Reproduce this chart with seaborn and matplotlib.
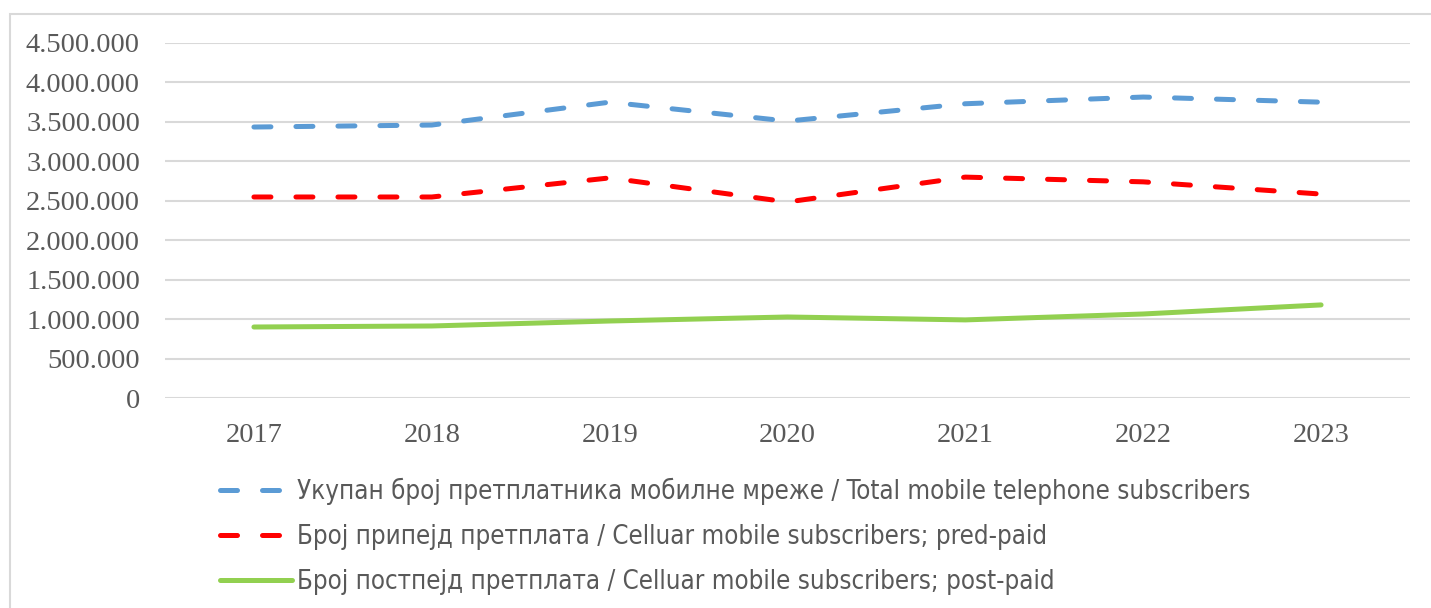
import numpy as np
import pandas as pd
import matplotlib.pyplot as plt
import seaborn as sns
from matplotlib.patches import Rectangle
from matplotlib.ticker import FuncFormatter, MultipleLocator

years = [2017, 2018, 2019, 2020, 2021, 2022, 2023]
total = [3435000, 3460000, 3750000, 3510000, 3730000, 3815000, 3750000]
prepaid = [2548000, 2548000, 2790000, 2485000, 2800000, 2740000, 2585000]
postpaid = [900000, 913000, 976000, 1027000, 990000, 1065000, 1180000]

labels = [
    "Укупан број претплатника мобилне мреже / Total mobile telephone subscribers",
    "Број припејд претплата / Celluar mobile subscribers; pred-paid",
    "Број постпејд претплата / Celluar mobile subscribers; post-paid",
]
colors = ["#5b9bd5", "#ff0000", "#92d050"]

sns.set_style("white")

fig = plt.figure(figsize=(14.31, 6.08), dpi=100)
ax = fig.add_axes([165 / 1431, 1 - 398 / 608, 1245 / 1431, 355 / 608])

# chart frame like the office chart area
fig.patches.append(Rectangle((10 / 1431, -0.1), 1.2, 1 - 14 / 608 + 0.1,
                             transform=fig.transFigure, fill=False,
                             edgecolor="#d9d9d9", lw=1.5))

df = pd.DataFrame({"year": years, "total": total, "prepaid": prepaid, "postpaid": postpaid})

for col, lab, c in zip(["total", "prepaid", "postpaid"], labels, colors):
    kw = dict(lw=3.6, color=c, label=lab, solid_capstyle="round")
    if col != "postpaid":
        kw.update(dashes=(3.4, 5.0), dash_capstyle="round")
    sns.lineplot(data=df, x="year", y=col, ax=ax, **kw)

ax.set_xlim(2016.5, 2023.5)
ax.set_ylim(0, 4500000)
ax.yaxis.set_major_locator(MultipleLocator(500000))
ax.yaxis.set_major_formatter(FuncFormatter(lambda v, p: f"{int(v):,}".replace(",", ".")))
ax.set_xticks(years)
ax.set_xlabel("")
ax.set_ylabel("")
ax.grid(axis="y", color="#d9d9d9", lw=1.5)
ax.set_axisbelow(True)
for s in ax.spines.values():
    s.set_visible(False)
ax.tick_params(axis="both", length=0, labelsize=20.5, labelcolor="#595959")
ax.tick_params(axis="y", pad=18)
ax.tick_params(axis="x", pad=18)
for t in ax.get_xticklabels() + ax.get_yticklabels():
    t.set_family("Liberation Serif")

handles, labs = ax.get_legend_handles_labels()
if ax.get_legend():
    ax.get_legend().remove()
leg = fig.legend(handles, labs, loc="upper left", bbox_to_anchor=(197 / 1431, 1 - 455 / 608),
                 frameon=False, handlelength=2.8, handletextpad=0.2, labelspacing=0.74,
                 prop={"family": "DejaVu Sans", "stretch": "condensed", "size": 18.5})
for t in leg.get_texts():
    t.set_color("#595959")

fig.savefig("out.png", dpi=100)
